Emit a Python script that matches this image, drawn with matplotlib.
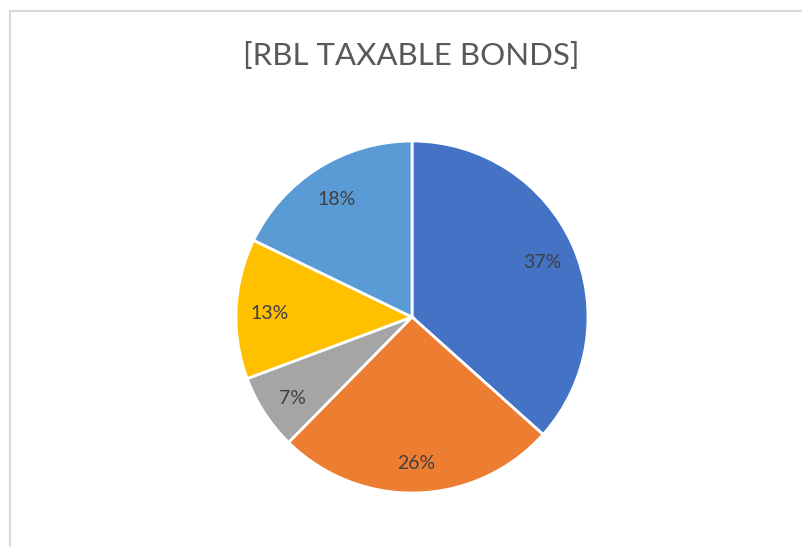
import matplotlib.pyplot as plt
from matplotlib.patches import Rectangle

# share of taxable bonds by segment
shares = [37, 26, 7, 13, 18]
colors = ["#4472C4", "#ED7D31", "#A5A5A5", "#FFC000", "#5B9BD5"]
title = "[RBL TAXABLE BONDS]"

W, H = 802, 547
fig = plt.figure(figsize=(W / 100, H / 100), dpi=100)

# light chart-area frame
fig.patches.append(Rectangle((10 / W, -0.01), 1.0, (H - 11) / H + 0.01,
                             transform=fig.transFigure, fill=False,
                             edgecolor="#D9D9D9", linewidth=1.5))

cx, cy, r = 412, 317, 176
ax = fig.add_axes([(cx - r) / W, (H - cy - r) / H, 2 * r / W, 2 * r / H])
wedges, texts, autotexts = ax.pie(
    shares, colors=colors, startangle=90, counterclock=False,
    autopct="%d%%", pctdistance=0.81,
    wedgeprops=dict(edgecolor="white", linewidth=2),
    textprops=dict(color="#404040", fontsize=14, family="Lato"))
for t, v in zip(autotexts, shares):
    t.set_text(f"{v}%")
    t.set_y(t.get_position()[1] - 0.02)
ax.set_xlim(-1, 1)
ax.set_ylim(-1, 1)
ax.set_aspect("equal")

fig.text(411 / W, 1 - 56 / H, title, ha="center", va="center",
         fontsize=22.5, color="#595959", family="Lato")

fig.savefig("out.png", dpi=100)
